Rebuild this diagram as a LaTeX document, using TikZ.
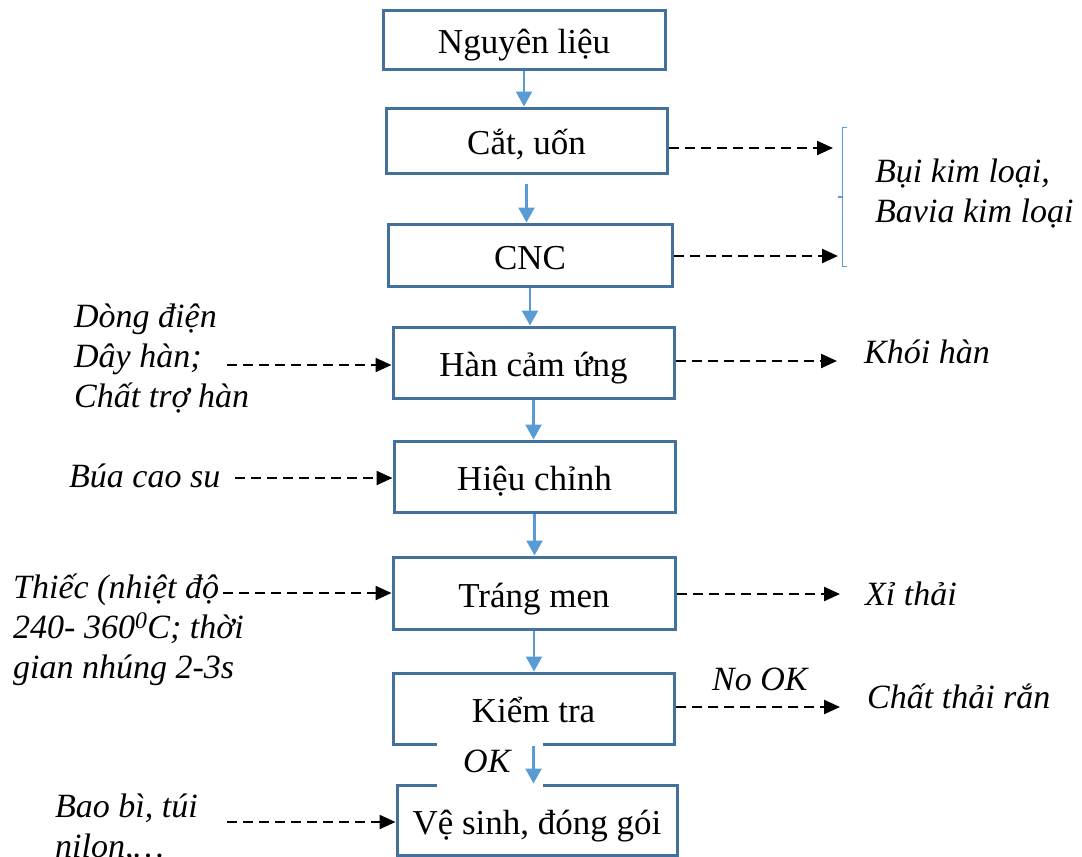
\documentclass[tikz,border=0pt]{standalone}
\usepackage{fontspec}
\setmainfont{Liberation Serif}
\usetikzlibrary{arrows.meta}
\definecolor{boxline}{RGB}{65,113,156}
\definecolor{flowblue}{RGB}{91,155,213}
\begin{document}
\begin{tikzpicture}[x=1pt,y=-1pt,
  every node/.style={inner sep=0pt, font=\fontsize{34}{40}\selectfont},
  stepbox/.style={draw=boxline, line width=3pt, fill=white,
    font=\fontsize{35}{40}\selectfont, text height=28pt, text depth=0pt},
  label/.style={anchor=base west, align=left, font=\fontsize{34}{40}\selectfont\itshape},
  flow/.style={draw=flowblue, line width=2.3pt, -{Triangle[length=15pt,width=16pt]}},
  dashflow/.style={draw=black, line width=2.3pt, dash pattern=on 10pt off 6pt,
    -{Triangle[length=16pt,width=14pt]}},
  bracket/.style={draw=flowblue, line width=1.2pt}]
\useasboundingbox (0,0) rectangle (1082,857);

% process steps
\node[stepbox, minimum width=282pt, minimum height=59pt] (n1) at (524,39.5) {Nguyên liệu};
\node[stepbox, minimum width=281pt, minimum height=65pt] (n2) at (526.5,140.5) {Cắt, uốn};
\node[stepbox, minimum width=284pt, minimum height=62pt] (n3) at (530,255) {CNC};
\node[stepbox, minimum width=281pt, minimum height=71pt] (n4) at (533.5,362.5) {Hàn cảm ứng};
\node[stepbox, minimum width=281pt, minimum height=71pt] (n5) at (534.5,476.5) {Hiệu chỉnh};
\node[stepbox, minimum width=282pt, minimum height=72pt] (n6) at (534,593) {Tráng men};
\node[stepbox, minimum width=281pt, minimum height=71pt] (n7) at (533.5,708.5) {Kiểm tra};
\node[stepbox, minimum width=280pt, minimum height=70pt] (n8) at (537,820) {Vệ sinh, đóng gói};

% OK label sits in a white patch over the box edges
\fill[white] (437,741) rectangle (543,788);
\node[label] (ok) at (463,772) {OK};

% main flow
\draw[flow] (n1.south) -- (n1.south |- n2.north);
\draw[flow] ([yshift=-9pt]n2.south) -- (n2.south |- n3.north);
\draw[flow] (n3.south) -- (n3.south |- n4.north);
\draw[flow] (n4.south) -- (n4.south |- n5.north);
\draw[flow] (n5.south) -- (n5.south |- n6.north);
\draw[flow] (n6.south) -- (n6.south |- n7.north);
\draw[flow] (n7.south) -- (n7.south |- n8.north);

% outputs on the right
\coordinate (r2) at (833,148);
\coordinate (r3) at (838,256);
\coordinate (r4) at (837,361);
\coordinate (r6) at (840,594);
\coordinate (r7) at (840,707);
\draw[dashflow] (n2.east |- r2) -- (r2);
\draw[dashflow] (n3.east |- r3) -- (r3);
\draw[dashflow] (n4.east |- r4) -- (r4);
\draw[dashflow] (n6.east |- r6) -- (r6);
\draw[dashflow] (n7.east |- r7) -- (r7);

\draw[bracket] (847,127.3) -- (842.7,127.3) -- (842.7,266.7) -- (847,266.7);
\draw[bracket] (842.7,197) -- (838,197);

\node[label] (dust) at (875,182) {\parbox[t]{220pt}{Bụi kim loại,\\Bavia kim loại}};
\node[label] (smoke) at (864,363) {Khói hàn};
\node[label] (slag) at (865,605) {Xỉ thải};
\node[label] (nook) at (712,690) {No OK};
\node[label] (solid) at (867,708) {Chất thải rắn};

% inputs on the left
\node[label] (weld) at (74,327) {\parbox[t]{200pt}{Dòng điện\\Dây hàn;\\Chất trợ hàn}};
\node[label] (hammer) at (69,487) {Búa cao su};
\node[label] (tin) at (13,598) {\parbox[t]{240pt}{Thiếc (nhiệt độ\\240- 360\textsuperscript{0}C; thời\\gian nhúng 2-3s}};
\node[label] (pack) at (55,817) {\parbox[t]{200pt}{Bao bì, túi\\nilon,…}};

\coordinate (l4) at (227,365);
\coordinate (l5) at (235,478);
\coordinate (l6) at (223,593);
\coordinate (l8) at (227,822);
\draw[dashflow] (l4) -- (l4 -| n4.west);
\draw[dashflow] (l5) -- (l5 -| n5.west);
\draw[dashflow] (l6) -- (l6 -| n6.west);
\draw[dashflow] (l8) -- (l8 -| n8.west);
\end{tikzpicture}
\end{document}
